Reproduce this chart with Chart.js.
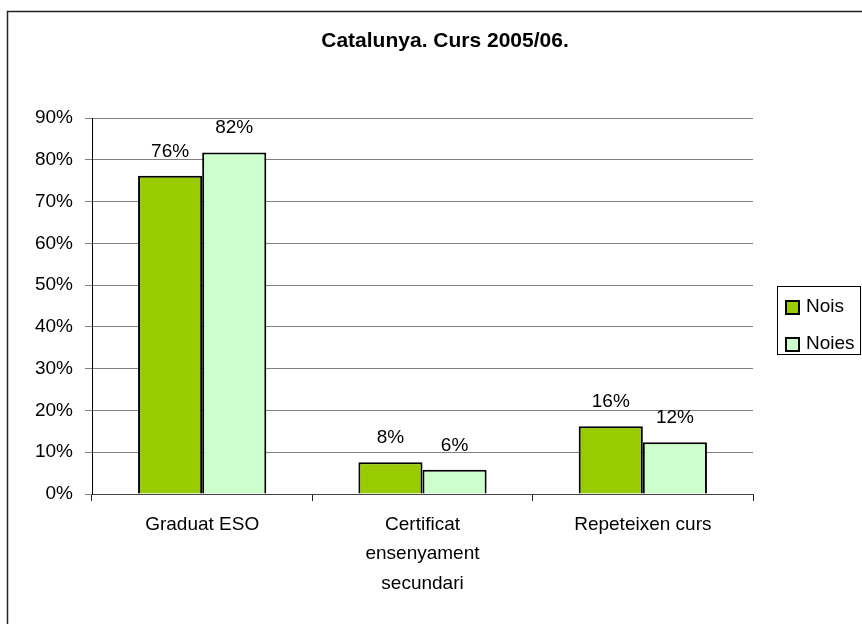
<!DOCTYPE html>
<html>
<head>
<meta charset="utf-8">
<script src="https://cdn.jsdelivr.net/npm/chart.js@4/dist/chart.umd.min.js"></script>
<style>
html,body{margin:0;padding:0;background:#fff;}
#wrap{width:862px;height:624px;position:relative;}
</style>
</head>
<body>
<div id="wrap"><canvas id="c" width="862" height="624"></canvas></div>
<script>
const categories = [["Graduat ESO"], ["Certificat", "ensenyament", "secundari"], ["Repeteixen curs"]];
const nois = [76.2, 7.6, 16.2];
const noies = [81.8, 5.8, 12.4];
const seriesNames = ["Nois", "Noies"];
const chartTitle = "Catalunya. Curs 2005/06.";
const yTicks = [0, 10, 20, 30, 40, 50, 60, 70, 80, 90];

const FONT = "'Liberation Sans', Arial, sans-serif";
const colors = ["#99CC00", "#CCFFCC"];

const frame = {
  id: 'frame',
  afterLayout(chart) {
    // centre the title over the whole chart object, as in the original
    const t = chart.titleBlock;
    if (t) { t.left = 137; t.right = 753; t.width = t.right - t.left; }
  },
  beforeDraw(chart) {
    const ctx = chart.ctx;
    ctx.save();
    ctx.fillStyle = '#fff';
    ctx.fillRect(0, 0, chart.width, chart.height);
    ctx.strokeStyle = '#222';
    ctx.lineWidth = 1.5;
    ctx.strokeRect(7.5, 11.5, 900, 700);
    ctx.restore();
  },
  afterDatasetsDraw(chart) {
    const ctx = chart.ctx;
    ctx.save();
    ctx.font = "19px " + FONT;
    ctx.fillStyle = '#000';
    ctx.textAlign = 'center';
    ctx.textBaseline = 'alphabetic';
    chart.data.datasets.forEach((ds, i) => {
      chart.getDatasetMeta(i).data.forEach((bar, j) => {
        ctx.fillText(Math.round(ds.data[j]) + '%', bar.x, bar.y - 19);
      });
    });
    ctx.restore();
  },
  afterDraw(chart) {
    const ctx = chart.ctx;
    ctx.save();
    const bx = 777, by = 286, bw = 83, bh = 68;
    ctx.strokeStyle = '#000';
    ctx.lineWidth = 1;
    ctx.strokeRect(bx + 0.5, by + 0.5, bw, bh);
    ctx.font = "19px " + FONT;
    ctx.textBaseline = 'middle';
    ctx.textAlign = 'left';
    const rows = [307, 344];
    chart.data.datasets.forEach((ds, i) => {
      ctx.fillStyle = ds.backgroundColor;
      ctx.fillRect(786, rows[i] - 6, 13, 13);
      ctx.lineWidth = 2;
      ctx.strokeStyle = '#000';
      ctx.strokeRect(786, rows[i] - 6, 13, 13);
      ctx.fillStyle = '#000';
      ctx.fillText(ds.label, 806, rows[i]);
    });
    ctx.restore();
  }
};

new Chart(document.getElementById('c'), {
  type: 'bar',
  data: {
    labels: categories,
    datasets: [
      { label: seriesNames[0], data: nois, backgroundColor: colors[0], borderColor: '#000', borderWidth: 2 },
      { label: seriesNames[1], data: noies, backgroundColor: colors[1], borderColor: '#000', borderWidth: 2 }
    ]
  },
  options: {
    responsive: false,
    animation: false,
    layout: { padding: { left: 0, right: 109, top: 0, bottom: 0 } },
    datasets: { bar: { categoryPercentage: 0.582, barPercentage: 1.0 } },
    plugins: {
      legend: { display: false },
      tooltip: { enabled: false },
      title: {
        display: true,
        text: chartTitle,
        color: '#000',
        font: { family: FONT, size: 21, weight: 'bold' },
        padding: { top: 29, bottom: 64 }
      }
    },
    scales: {
      x: {
        afterFit(s) { s.height = 130; },
        grid: { display: true, drawOnChartArea: false, offset: true, tickLength: 7, color: '#222', tickColor: '#222' },
        border: { display: true, color: '#444', width: 1 },
        ticks: { color: '#000', font: { family: FONT, size: 19, lineHeight: 1.55 }, padding: 9, maxRotation: 0, autoSkip: false }
      },
      y: {
        min: 0, max: 90,
        afterFit(s) { s.width = 92; },
        afterBuildTicks(s) { s.ticks = yTicks.map(v => ({ value: v })); },
        grid: { color: '#808080', lineWidth: 1, tickLength: 7, tickColor: '#808080' },
        border: { display: true, color: '#000', width: 1 },
        ticks: { color: '#000', font: { family: FONT, size: 19 }, padding: 12, callback: v => v + '%' }
      }
    }
  },
  plugins: [frame]
});
</script>
</body>
</html>
